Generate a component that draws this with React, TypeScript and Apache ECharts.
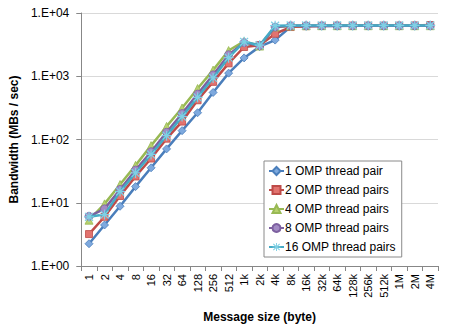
import React, { useEffect, useRef } from "react";
import * as echarts from "echarts";

const categories = ["1", "2", "4", "8", "16", "32", "64", "128", "256", "512", "1k", "2k", "4k", "8k", "16k", "32k", "64k", "128k", "256k", "512k", "1M", "2M", "4M"];

const seriesNames = ["1 OMP thread pair", "2 OMP thread pairs", "4 OMP thread pairs", "8 OMP thread pairs", "16 OMP thread pairs"];

const pair1 = [2.25, 4.45, 8.8, 18, 35.7, 71, 138, 265, 554, 1120, 1950, 2940, 3730, 6050, 6200, 6250, 6250, 6300, 6300, 6300, 6300, 6300, 6300];
const pair2 = [3.2, 6.0, 12.8, 26, 50, 103, 192, 417, 815, 1600, 2900, 3100, 4700, 6000, 6200, 6250, 6300, 6300, 6300, 6300, 6300, 6350, 6450];
const pair4 = [5.3, 9.6, 19.4, 39, 80, 161, 315, 640, 1250, 2550, 3550, 3000, 6000, 6250, 6300, 6300, 6300, 6300, 6300, 6300, 6300, 6300, 6300];
const pair8 = [6.1, 8.0, 16.2, 32.9, 64, 130, 257, 522, 1050, 2190, 3400, 3050, 6000, 6300, 6300, 6300, 6300, 6300, 6300, 6300, 6300, 6300, 6300];
const pair16 = [6.0, 6.5, 15, 29.6, 58, 115, 230, 465, 940, 1970, 3500, 3100, 6300, 6350, 6350, 6350, 6350, 6350, 6350, 6350, 6350, 6350, 6350];

const lineColors = ["#4A7EBB", "#BE4B48", "#98B954", "#7D60A0", "#46AAC5"];
const markerColors = ["#7EA9DE", "#E2736F", "#B7D16E", "#A28BC4", "#7FD0E4"];
const symbols = [
  "diamond",
  "rect",
  "triangle",
  "circle",
  "path://M4.4 0L5.6 0L5.6 10L4.4 10Z M0 4.4L10 4.4L10 5.6L0 5.6Z M0.6 1.5L1.5 0.6L9.4 8.5L8.5 9.4Z M8.5 0.6L9.4 1.5L1.5 9.4L0.6 8.5Z",
];
const symbolSizes = [8, 7, 8, 8, 10];

export default function App() {
  const ref = useRef<HTMLDivElement>(null);
  useEffect(() => {
    if (!ref.current) return;
    const chart = echarts.init(ref.current, null, { renderer: "svg" });
    const font = "Liberation Sans, Arial, sans-serif";
    const data = [pair1, pair2, pair4, pair8, pair16];
    chart.setOption({
      animation: false,
      textStyle: { fontFamily: font },
      grid: { left: 81, right: 14, top: 13, bottom: 54, containLabel: false },
      legend: {
        orient: "vertical",
        left: 264,
        top: 161,
        width: 139,
        backgroundColor: "#ffffff",
        borderColor: "#8a8a8a",
        borderWidth: 1,
        padding: [3, 6, 3, 4],
        itemWidth: 15,
        itemHeight: 10,
        itemGap: 5,
        textStyle: { fontSize: 12, color: "#000", fontFamily: font, lineHeight: 14, padding: [0, 0, 0, -4] },
        data: seriesNames,
      },
      xAxis: {
        type: "category",
        data: categories,
        boundaryGap: true,
        name: "Message size (byte)",
        nameLocation: "middle",
        nameGap: 45,
        nameTextStyle: { fontWeight: "bold", fontSize: 12, color: "#000" },
        axisLine: { lineStyle: { color: "#878787", width: 1 } },
        axisTick: { show: true, length: 5, lineStyle: { color: "#878787" } },
        axisLabel: { interval: 0, rotate: 90, fontSize: 11, color: "#000", margin: 8 },
        splitLine: { show: false },
      },
      yAxis: {
        type: "log",
        logBase: 10,
        min: 1,
        max: 10000,
        name: "Bandwidth (MBs / sec)",
        nameLocation: "middle",
        nameGap: 61,
        nameTextStyle: { fontWeight: "bold", fontSize: 12, color: "#000" },
        axisLine: { show: true, lineStyle: { color: "#878787", width: 1 } },
        axisTick: { show: true, length: 5, lineStyle: { color: "#878787" } },
        axisLabel: {
          fontSize: 12,
          color: "#000",
          margin: 12,
          formatter: (v: number) => {
            const e = Math.round(Math.log10(v));
            return "1.E+" + (e < 10 ? "0" + e : String(e));
          },
        },
        splitLine: { show: true, lineStyle: { color: "#d9d9d9", width: 1 } },
        minorTick: { show: false },
      },
      series: data.map((d, i) => ({
        name: seriesNames[i],
        type: "line",
        data: d,
        symbol: symbols[i],
        symbolSize: symbolSizes[i],
        showSymbol: true,
        z: 2 + i,
        lineStyle: { color: lineColors[i], width: 2.5 },
        itemStyle: {
          color: markerColors[i],
          borderColor: i === 4 ? markerColors[i] : lineColors[i],
          borderWidth: i === 4 ? 0 : 0.8,
        },
      })),
    });
    return () => chart.dispose();
  }, []);
  return <div ref={ref} style={{ width: 452, height: 328, position: "absolute", left: 0, top: 0 }} />;
}
